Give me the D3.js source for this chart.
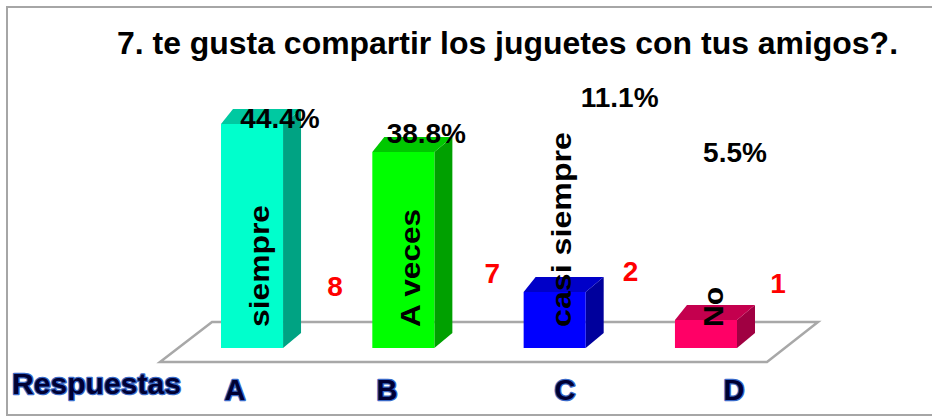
<!DOCTYPE html>
<html>
<head>
<meta charset="utf-8">
<script src="https://cdn.jsdelivr.net/npm/d3@7"></script>
<style>
  body { margin: 0; background: #fff; }
  svg { display: block; font-family: "Liberation Sans", Arial, sans-serif; font-weight: bold; }
</style>
</head>
<body>
<svg width="932" height="416"></svg>
<script>
// data
var categories = ["A", "B", "C", "D"];
var answers = ["siempre", "A veces", "casi siempre", "No"];
var counts = [8, 7, 2, 1];
var percents = ["44.4%", "38.8%", "11.1%", "5.5%"];
var titleText = "7. te gusta compartir los juguetes con tus amigos?.";
var axisTitle = "Respuestas";

var faceColors = ["#00ffcc", "#00ff00", "#0000ff", "#ff0066"];
var topColors = ["#00c9a1", "#00c800", "#0000c8", "#c4004e"];
var sideColors = ["#00a383", "#00a000", "#00009c", "#a00042"];

// hand placed label nudges (relative to bar centre / baseline)
var pctDx = [28, 23, 65, 29], pctY = [128, 143, 107, 162];
var cntDx = [83, 89, 76, 72], cntY = [296, 283, 281, 293];
var catX = [235, 387, 565, 734];
var answerLen = [122, 118, 195, 40];

var svg = d3.select("svg");
var W = +svg.attr("width"), H = +svg.attr("height");
var depthX = 18, depthY = 15;

var x = d3.scaleBand().domain(categories).range([221, 737]).paddingInner(0.59).paddingOuter(0);
var y = d3.scaleLinear().domain([0, 8]).range([348, 124]);

// frame
svg.append("rect").attr("x", 7).attr("y", 7).attr("width", W).attr("height", H - 8)
    .attr("fill", "#fff").attr("stroke", "#a6a6a6").attr("stroke-width", 2);

// title
svg.append("text").attr("x", 117).attr("y", 54)
    .attr("font-size", 32).attr("textLength", 781).attr("lengthAdjust", "spacingAndGlyphs")
    .attr("fill", "#000").text(titleText);

// floor
var floor = [[212, 322], [818, 322], [767, 362], [160, 362]];
svg.append("polygon").attr("points", floor.map(function(p){ return p.join(","); }).join(" "))
    .attr("fill", "#fff").attr("stroke", "#a8a8a8").attr("stroke-width", 2.5);

// bars
var bw = x.bandwidth();
var bars = svg.selectAll("g.bar").data(counts).enter().append("g").attr("class", "bar");

bars.append("polygon").attr("fill", function(d, i){ return sideColors[i]; })
    .attr("points", function(d, i){
        var x1 = x(categories[i]) + bw, t = y(d), b = y(0);
        return [[x1, t], [x1 + depthX, t - depthY], [x1 + depthX, b - depthY], [x1, b]].join(" ");
    });
bars.append("polygon").attr("fill", function(d, i){ return topColors[i]; })
    .attr("points", function(d, i){
        var x0 = x(categories[i]), t = y(d);
        return [[x0, t], [x0 + depthX - 6, t - depthY], [x0 + bw + depthX, t - depthY], [x0 + bw, t]].join(" ");
    });
bars.append("rect").attr("fill", function(d, i){ return faceColors[i]; })
    .attr("x", function(d, i){ return x(categories[i]); })
    .attr("y", function(d){ return y(d); })
    .attr("width", bw)
    .attr("height", function(d){ return y(0) - y(d); });

// answer names, rotated in the bars
svg.selectAll("text.answer").data(answers).enter().append("text")
    .attr("class", "answer")
    .attr("transform", function(d, i){
        return "translate(" + (x(categories[i]) + bw / 2 + 7) + ",327) rotate(-90)";
    })
    .attr("dy", "0.36em")
    .attr("font-size", 27)
    .attr("textLength", function(d, i){ return answerLen[i]; })
    .attr("lengthAdjust", "spacingAndGlyphs")
    .attr("fill", "#000")
    .text(function(d){ return d; });

// percentages
svg.selectAll("text.pct").data(percents).enter().append("text")
    .attr("class", "pct")
    .attr("x", function(d, i){ return x(categories[i]) + bw / 2 + pctDx[i]; })
    .attr("y", function(d, i){ return pctY[i]; })
    .attr("text-anchor", "middle").attr("font-size", 28).attr("fill", "#000")
    .text(function(d){ return d; });

// counts
svg.selectAll("text.cnt").data(counts).enter().append("text")
    .attr("class", "cnt")
    .attr("x", function(d, i){ return x(categories[i]) + bw / 2 + cntDx[i]; })
    .attr("y", function(d, i){ return cntY[i]; })
    .attr("text-anchor", "middle").attr("font-size", 28).attr("fill", "#ff0000")
    .text(function(d){ return d; });

// axis title and category letters
function glow(sel) {
    sel.attr("fill", "#000033").attr("stroke", "#3a6ac8").attr("stroke-width", 2.5)
        .attr("stroke-linejoin", "round").attr("paint-order", "stroke");
}
svg.append("text").attr("x", 12).attr("y", 394).attr("font-size", 30)
    .attr("textLength", 169).attr("lengthAdjust", "spacingAndGlyphs")
    .call(glow).text(axisTitle);

svg.selectAll("text.cat").data(categories).enter().append("text")
    .attr("class", "cat")
    .attr("x", function(d, i){ return catX[i]; })
    .attr("y", 400)
    .attr("text-anchor", "middle").attr("font-size", 29)
    .call(glow)
    .text(function(d){ return d; });
</script>
</body>
</html>
